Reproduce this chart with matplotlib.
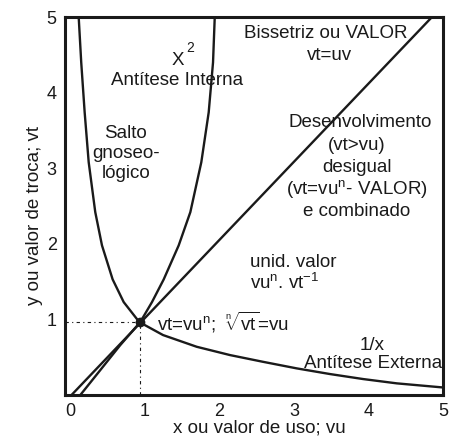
import matplotlib
matplotlib.use("Agg")
import matplotlib.pyplot as plt

plt.rcParams['font.family'] = ['Liberation Sans', 'DejaVu Sans']
plt.rcParams['mathtext.fontset'] = 'custom'
plt.rcParams['mathtext.rm'] = 'Liberation Sans'
plt.rcParams['mathtext.it'] = 'Liberation Sans:italic'
plt.rcParams['mathtext.bf'] = 'Liberation Sans:bold'

# Data
bis_x = [0.02, 4.85]
bis_y = [0.0, 5.0]

sq_x = [0.138, 0.385, 0.674, 0.942, 1.099, 1.256, 1.457, 1.613, 1.760, 1.859, 1.917, 1.940]
sq_y = [0.000, 0.304, 0.661, 0.966, 1.230, 1.530, 1.980, 2.420, 3.080, 3.740, 4.400, 5.000]

inv_x = [0.117, 0.151, 0.197, 0.251, 0.339, 0.429, 0.572, 0.720, 0.929, 1.247, 1.698,
         2.145, 2.587, 3.039, 3.485, 3.928, 4.379, 4.982]
inv_y = [5.000, 4.400, 3.740, 3.080, 2.420, 1.980, 1.530, 1.230, 0.966, 0.794, 0.639,
         0.529, 0.440, 0.353, 0.278, 0.212, 0.155, 0.102]

pt_x, pt_y = 0.935, 0.966

xticks = [0, 1, 2, 3, 4, 5]
yticks = [1, 2, 3, 4, 5]

ink = '#1a1a1a'

fig = plt.figure(figsize=(4.64, 4.38), dpi=100)
ax = fig.add_axes([0.140, 0.098, 0.815, 0.863])
ax.set_xlim(-0.067, 5.0)
ax.set_ylim(0, 5.0)

ax.plot(bis_x, bis_y, color=ink, lw=1.7, solid_capstyle='butt')
ax.plot(sq_x, sq_y, color=ink, lw=1.7, solid_joinstyle='round')
ax.plot(inv_x, inv_y, color=ink, lw=1.7, solid_joinstyle='round')

ax.plot([-0.067, pt_x], [pt_y, pt_y], color=ink, lw=0.8, linestyle=(0, (3, 3, 1, 3)))
ax.plot([pt_x, pt_x], [0, pt_y], color=ink, lw=0.8, linestyle=(0, (3, 3, 1, 3)))
ax.plot([pt_x], [pt_y], 'o', color=ink, ms=6)

for s in ax.spines.values():
    s.set_linewidth(2.2)
    s.set_color(ink)

ax.set_xticks(xticks)
ax.set_yticks(yticks)
ax.tick_params(length=0, labelsize=13, pad=6, colors=ink)

fs = 13.5
def px(xp, yp):
    return ((xp - 70) / 74.6, (395 - yp) / 75.6)

def t(xp, yp, s, ha='center'):
    x, y = px(xp, yp)
    ax.text(x, y, s, fontsize=fs, ha=ha, va='center', color=ink)

# axis titles placed in axes pixel terms
ax.text((259 - 65) / 378, (395 - 428) / 378, 'x ou valor de uso; vu', transform=ax.transAxes,
        fontsize=fs, ha='center', va='center', color=ink, clip_on=False)
ax.text((35 - 65) / 378, (395 - 215) / 378, 'y ou valor de troca; vt', transform=ax.transAxes,
        fontsize=fs, ha='center', va='center', rotation=90, color=ink, clip_on=False)

t(178, 60, 'X')
ax.text(*px(190, 48), '2', fontsize=10, ha='center', va='center', color=ink)
t(177, 80, 'Antítese Interna')
t(126, 133, 'Salto')
t(126, 153, 'gnoseo-')
t(126, 173, 'lógico')
t(326, 33, 'Bissetriz ou VALOR')
t(329, 55, 'vt=uv')
t(360, 122, 'Desenvolvimento')
t(357, 145, '(vt>vu)')
t(357, 167, 'desigual')
t(357, 189, r'(vt=vu$^{\mathrm{n}}$- VALOR)')
t(357, 211, 'e combinado')
t(250, 262, 'unid. valor', ha='left')
t(250, 283, r'vu$^{\mathrm{n}}$. vt$^{\mathrm{-1}}$', ha='left')
t(157, 322, r'vt=vu$^{\mathrm{n}}$;  $\sqrt[\mathrm{n}]{\mathrm{vt}}$=vu', ha='left')
t(372, 345, '1/x')
t(373, 363, 'Antítese Externa')

fig.savefig('out.png', dpi=100)
